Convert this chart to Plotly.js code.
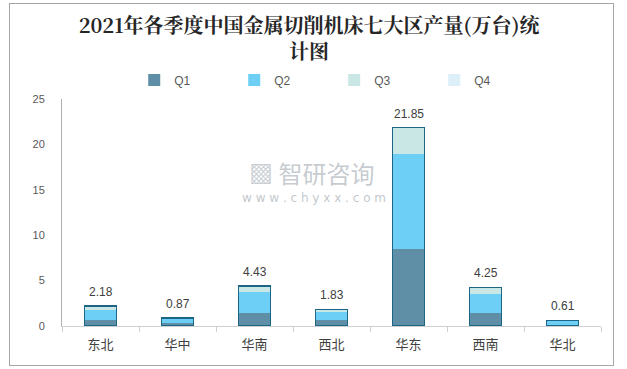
<!DOCTYPE html>
<html>
<head>
<meta charset="utf-8">
<script src="https://cdn.plot.ly/plotly-3.0.1.min.js"></script>
<style>
html,body{margin:0;padding:0;background:#fff;}
#wrap{position:relative;width:627px;height:369px;}
#chart{position:absolute;left:0;top:0;width:627px;height:369px;}
#frame{position:absolute;left:9px;top:3px;width:603px;height:361px;border:1px solid #a6a6a6;pointer-events:none;}
</style>
</head>
<body>
<div id="wrap"><div id="chart"></div><div id="frame"></div></div>
<script>
const regions = ["东北","华中","华南","西北","华东","西南","华北"];
const q1 = [0.63, 0.36, 1.43, 0.66, 8.48, 1.43, 0.15];
const q2 = [1.17, 0.38, 2.31, 0.91, 10.42, 2.13, 0.40];
const q3 = [0.38, 0.13, 0.69, 0.26, 2.95, 0.69, 0.06];
const q4 = [0, 0, 0, 0, 0, 0, 0];
const totals = [2.18, 0.87, 4.43, 1.83, 21.85, 4.25, 0.61];
const seriesNames = ["Q1","Q2","Q3","Q4"];
const colors = ["#5f8fa6","#6dcff6","#c9e7e4","#ddf0f9"];

const series = [q1,q2,q3,q4];
const traces = series.map((vals,i)=>({
  type:"bar", x:regions, y:vals, name:seriesNames[i],
  marker:{color:colors[i], line:{width:0}},
  hoverinfo:"x+y+name"
}));
traces.push({
  type:"bar", x:regions, y:totals, yaxis:"y2", showlegend:false,
  marker:{color:"rgba(0,0,0,0)", line:{color:"#1d6586", width:1.5}},
  hoverinfo:"skip"
});

const annotations = regions.map((r,i)=>({
  x:r, y:totals[i], xref:"x", yref:"y", text:totals[i].toFixed(2),
  showarrow:false, yanchor:"bottom", yshift:5,
  font:{family:"Liberation Sans, Arial, sans-serif", size:12, color:"#404040"}
}));
annotations.push({
  xref:"paper", yref:"paper", x:0.462, y:0.676, xanchor:"center", yanchor:"middle",
  text:"▩ 智研咨询", showarrow:false,
  font:{family:"Noto Sans CJK SC", size:24, color:"rgba(150,160,170,0.55)"}
});
annotations.push({
  xref:"paper", yref:"paper", x:0.467, y:0.566, xanchor:"center", yanchor:"middle",
  text:"w w w . c h y x x . c o m", showarrow:false,
  font:{family:"DejaVu Sans", size:12, color:"rgba(150,160,170,0.6)"}
});

const layout = {
  width:627, height:369,
  margin:{l:62, r:26, t:99, b:43, pad:0},
  paper_bgcolor:"rgba(0,0,0,0)", plot_bgcolor:"rgba(0,0,0,0)",
  barmode:"stack", bargap:0.59,
  title:{
    text:"<b>2021年各季度中国金属切削机床七大区产量(万台)统<br>计图</b>",
    x:0.493, xanchor:"center", y:0.91, yanchor:"top",
    font:{family:"Noto Serif CJK SC, Noto Sans CJK SC, serif", size:20, color:"#262626"}
  },
  showlegend:true,
  legend:{
    orientation:"h", x:0.134, xanchor:"left", y:1.084, yanchor:"middle",
    entrywidth:55, entrywidthmode:"pixels",
    font:{family:"Liberation Sans, Arial, sans-serif", size:12, color:"#595959"},
    itemwidth:30, traceorder:"normal"
  },
  xaxis:{
    type:"category", showgrid:false, showline:true, linecolor:"#d0d0d0", linewidth:1,
    ticks:"outside", tickson:"boundaries", ticklen:5, tickcolor:"#d0d0d0",
    ticklabelstandoff:6,
    tickfont:{family:"Noto Sans CJK SC", size:13, color:"#404040"},
    fixedrange:true
  },
  yaxis:{
    range:[0,25], dtick:5, showgrid:false, showline:true, linecolor:"#b0b0b0", linewidth:1,
    ticks:"", ticklabelstandoff:14,
    tickfont:{family:"Liberation Sans, Arial, sans-serif", size:11, color:"#595959"},
    zeroline:false, fixedrange:true
  },
  yaxis2:{range:[0,25], overlaying:"y", visible:false, fixedrange:true},
  annotations:annotations
};

Plotly.newPlot("chart", traces, layout, {displayModeBar:false, staticPlot:true});
</script>
</body>
</html>
